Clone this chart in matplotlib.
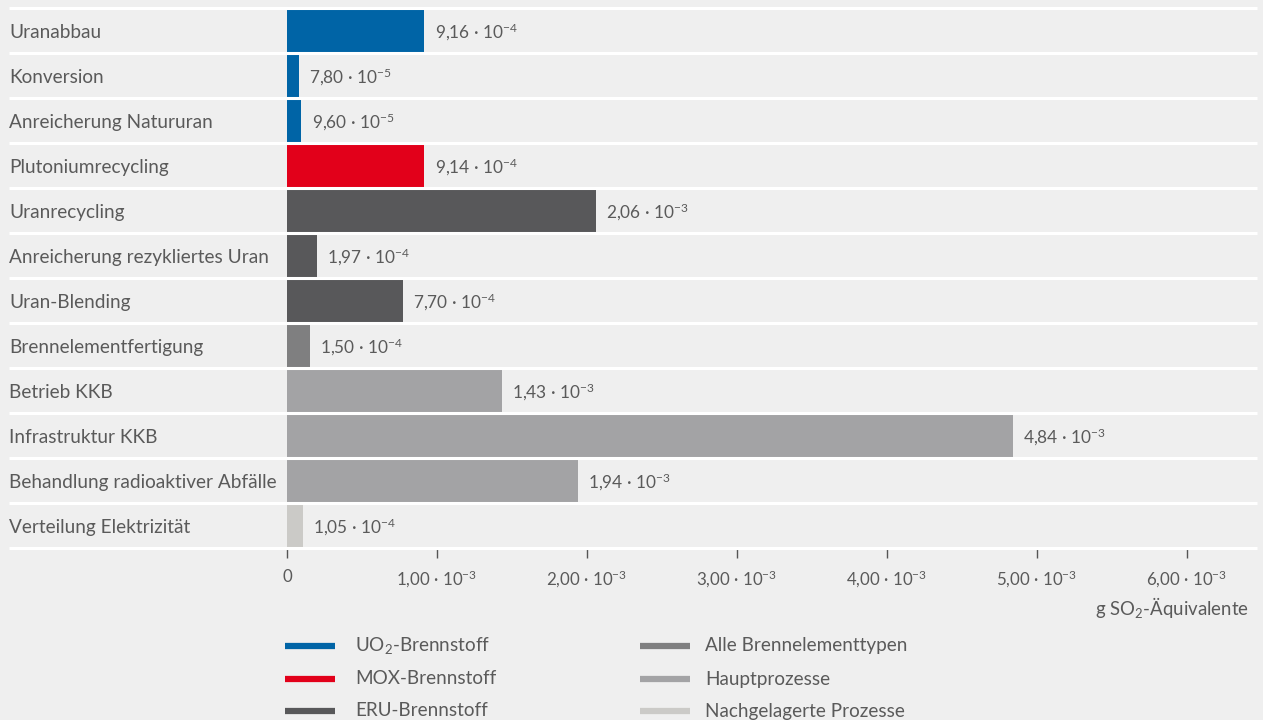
import math
import matplotlib.pyplot as plt
from matplotlib.lines import Line2D

plt.rcParams['font.family'] = ['Lato', 'DejaVu Sans']
plt.rcParams['mathtext.fontset'] = 'custom'
plt.rcParams['mathtext.rm'] = 'Lato'
plt.rcParams['mathtext.it'] = 'Lato:italic'
plt.rcParams['mathtext.bf'] = 'Lato:bold'
plt.rcParams['mathtext.default'] = 'regular'

# process steps, g SO2-eq per kWh
steps = ['Uranabbau', 'Konversion', 'Anreicherung Natururan', 'Plutoniumrecycling',
         'Uranrecycling', 'Anreicherung rezykliertes Uran', 'Uran-Blending',
         'Brennelementfertigung', 'Betrieb KKB', 'Infrastruktur KKB',
         'Behandlung radioaktiver Abfälle', 'Verteilung Elektrizität']
values = [9.16e-4, 7.80e-5, 9.60e-5, 9.14e-4, 2.06e-3, 1.97e-4, 7.70e-4,
          1.50e-4, 1.43e-3, 4.84e-3, 1.94e-3, 1.05e-4]
groups = ['uo2', 'uo2', 'uo2', 'mox', 'eru', 'eru', 'eru',
          'alle', 'haupt', 'haupt', 'haupt', 'nach']

group_keys = ['uo2', 'mox', 'eru', 'alle', 'haupt', 'nach']
group_names = ['UO$_2$-Brennstoff', 'MOX-Brennstoff', 'ERU-Brennstoff',
               'Alle Brennelementtypen', 'Hauptprozesse', 'Nachgelagerte Prozesse']
group_colors = ['#0064a6', '#e2001a', '#58585a', '#7f7f80', '#a3a3a5', '#cbcac7']
colors = dict(zip(group_keys, group_colors))

x_ticks = [0, 1e-3, 2e-3, 3e-3, 4e-3, 5e-3, 6e-3]

bg = '#efefef'
txt = '#5a5a5a'


def sci(v):
    if v == 0:
        return '0'
    e = math.floor(math.log10(v))
    m = v / 10 ** e
    return '%s · $10^{%d}$' % (('%.2f' % m).replace('.', ','), e)


fig = plt.figure(figsize=(12.63, 7.2), dpi=100, facecolor=bg)
ax = fig.add_axes([287 / 1263, 172 / 720, 970 / 1263, 540 / 720], facecolor=bg)

ypos = list(range(len(steps)))
ax.barh(ypos, values, height=0.95, color=[colors[g] for g in groups], zorder=2)

for y, v in zip(ypos, values):
    ax.annotate(sci(v), (v, y), xytext=(7.5, -1.5), textcoords='offset points',
                ha='left', va='center', fontsize=12.4, color=txt)

# row separators reaching out under the category names
left = (9 - 287) / 970
tr = ax.get_yaxis_transform()
for b in [i - 0.5 for i in range(len(steps) + 1)]:
    ax.plot([left, 1], [b, b], transform=tr, color='white', lw=2.2,
            clip_on=False, zorder=3, solid_capstyle='butt')

for y, s in zip(ypos, steps):
    ax.annotate(s, (left, y), xycoords=tr, xytext=(0, -1.5), textcoords='offset points',
                ha='left', va='center', fontsize=13.7, color=txt, annotation_clip=False)

ax.set_xlim(0, 970 / 150 * 1e-3)
ax.set_ylim(len(steps) - 0.5, -0.5)
ax.set_yticks([])
ax.set_xticks(x_ticks)
ax.set_xticklabels([sci(t) for t in x_ticks])
ax.tick_params(axis='x', length=7, width=1, color='#555555', labelsize=12.2,
               labelcolor=txt, pad=8)
for sp in ax.spines.values():
    sp.set_visible(False)

fig.text(1249 / 1263, 1 - 608 / 720, 'g SO$_2$-Äquivalente', ha='right', va='center',
         fontsize=13.4, color=txt)

# legend in two columns
leg_x = [(285, 355), (640, 705)]
leg_y = [646, 679, 711]
for i, (name, col) in enumerate(zip(group_names, group_colors)):
    lx, tx = leg_x[i // 3]
    y = 1 - leg_y[i % 3] / 720
    fig.add_artist(Line2D([lx / 1263, (lx + 50) / 1263], [y, y], color=col, lw=4.5,
                          solid_capstyle='butt'))
    fig.text(tx / 1263, y, name, ha='left', va='center', fontsize=13.6, color=txt)

fig.savefig('out.png', dpi=100, facecolor=bg)
